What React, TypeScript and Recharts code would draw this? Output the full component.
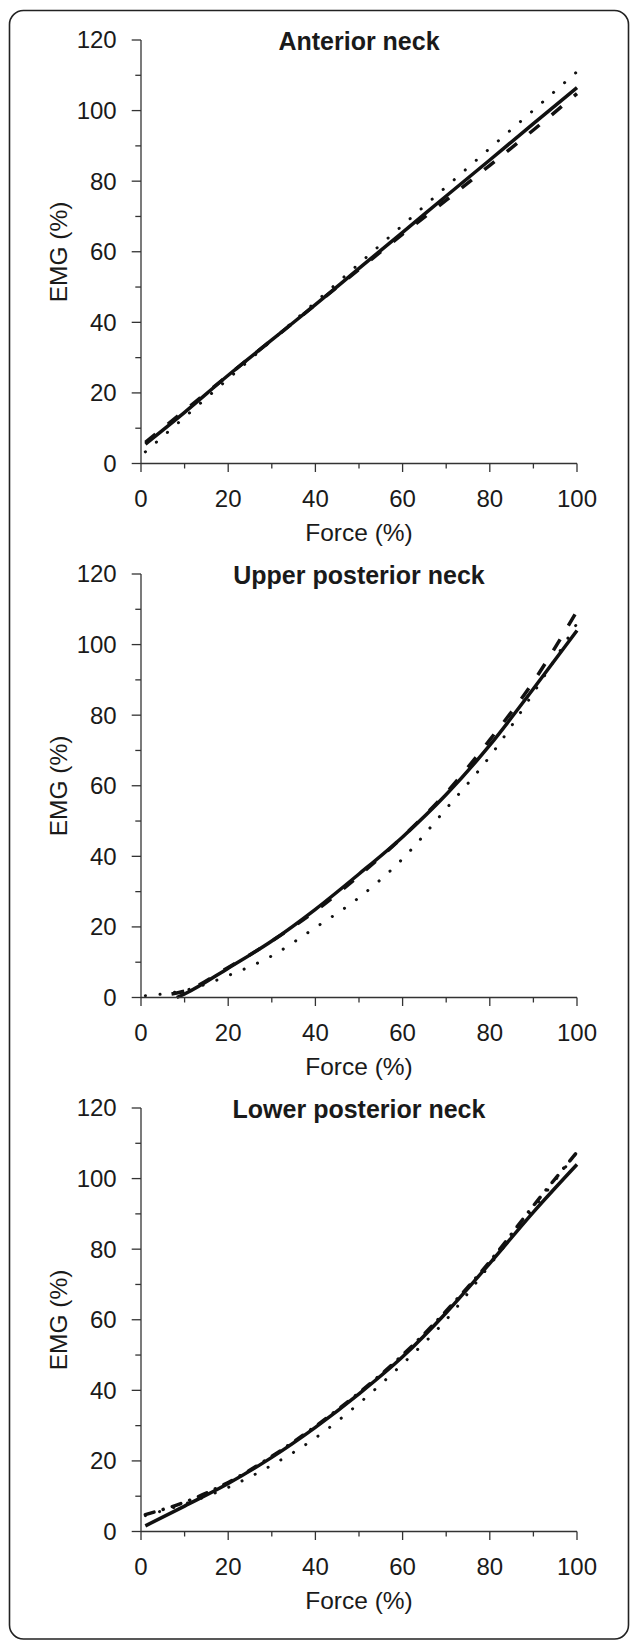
import React from "react";
import { Line, LineChart, XAxis, YAxis } from "recharts";

// force (%) sample points
const FORCE = [1, 10, 20, 30, 40, 50, 60, 70, 80, 90, 100];
const X_TICKS = [0, 10, 20, 30, 40, 50, 60, 70, 80, 90, 100];
const Y_TICKS = [0, 10, 20, 30, 40, 50, 60, 70, 80, 90, 100, 110, 120];

const TITLES = ["Anterior neck", "Upper posterior neck", "Lower posterior neck"];

// Anterior neck
const anteriorSolid = [5.5, 14.5, 25, 35, 45, 55.3, 65.5, 75.8, 86, 96.3, 106.5];
const anteriorDashed = [6, 15, 25, 35, 45, 55, 65, 74.6, 84.5, 94.5, 104.8];
const anteriorDotted = [3.3, 13.1, 24, 34.9, 45.7, 56.6, 67.5, 78.4, 89.3, 100.1, 111];

// Upper posterior neck
const upperSolidForce = [8.2, 10, 20, 30, 40, 50, 60, 70, 80, 90, 100];
const upperSolid = [0, 1, 8.3, 16, 25, 35, 45.5, 57.5, 71.5, 87.5, 104];
const upperDashedForce = [7, 10, 20, 30, 40, 50, 60, 70, 80, 90, 100];
const upperDashed = [1, 1.8, 8.5, 16, 24.5, 34.5, 45.5, 58, 73, 89.5, 109.5];
const upperDottedForce = [1, 5, 10, 20, 30, 40, 50, 60, 70, 80, 90, 100];
const upperDotted = [0.5, 1, 2, 6.2, 11.8, 19.8, 28.3, 39.3, 53.5, 68.3, 86.3, 106];

// Lower posterior neck
const lowerSolid = [1.6, 7.2, 13.6, 21, 29.5, 39, 49.5, 62, 76, 90.5, 104];
const lowerDashDot = [4.8, 8.3, 13.9, 21.3, 29.8, 39.3, 50, 62.5, 76.5, 92.3, 107.5];
const lowerDotted = [4.5, 7.8, 12.5, 18.8, 26.5, 36.3, 47.5, 60, 75.5, 91.5, 107.5];

const INK = "#1a1a1a";
const AXIS = "#333";
const LINE = "#111";
const FONT = "'Liberation Sans', Arial, Helvetica, sans-serif";

const pts = (xs: number[], ys: number[]) => xs.map((force, i) => ({ force, emg: ys[i] }));

type Series = { data: { force: number; emg: number }[]; style: "solid" | "dashed" | "dotted" | "dashdot" };

const PANELS: Series[][] = [
    [
        { data: pts(FORCE, anteriorDotted), style: "dotted" },
        { data: pts(FORCE, anteriorDashed), style: "dashed" },
        { data: pts(FORCE, anteriorSolid), style: "solid" },
    ],
    [
        { data: pts(upperDottedForce, upperDotted), style: "dotted" },
        { data: pts(upperDashedForce, upperDashed), style: "dashed" },
        { data: pts(upperSolidForce, upperSolid), style: "solid" },
    ],
    [
        { data: pts(FORCE, lowerDotted), style: "dotted" },
        { data: pts(FORCE, lowerDashDot), style: "dashdot" },
        { data: pts(FORCE, lowerSolid), style: "solid" },
    ],
];

const STYLES = {
    solid: { strokeWidth: 3.5, strokeDasharray: undefined, strokeLinecap: "butt" },
    dashed: { strokeWidth: 3.5, strokeDasharray: "13 16", strokeLinecap: "butt" },
    dotted: { strokeWidth: 3, strokeDasharray: "0.1 14.6", strokeLinecap: "round" },
    dashdot: { strokeWidth: 3.5, strokeDasharray: "9 9.5 0.1 9.5", strokeLinecap: "round" },
} as const;

const PANEL_H = 534;

const renderXTick = (props: any) => {
    const { x, y, payload } = props;
    const major = payload.value % 20 === 0;
    return (
        <g>
            <line x1={x} y1={y} x2={x} y2={y + (major ? 8.5 : 5)} stroke={AXIS} strokeWidth={1.3} />
            {major && (
                <text x={x} y={y + 43} textAnchor="middle" fontSize={24} fill={INK} fontFamily={FONT}>
                    {payload.value}
                </text>
            )}
        </g>
    );
};

const renderYTick = (props: any) => {
    const { x, y, payload } = props;
    const major = payload.value % 20 === 0;
    return (
        <g>
            <line x1={x - (major ? 9.3 : 5.7)} y1={y} x2={x} y2={y} stroke={AXIS} strokeWidth={1.3} />
            {major && (
                <text x={x - 24.3} y={y + 8.4} textAnchor="end" fontSize={24} fill={INK} fontFamily={FONT}>
                    {payload.value}
                </text>
            )}
        </g>
    );
};

function Panel({ series }: { series: Series[] }) {
    return (
        <LineChart width={630} height={PANEL_H} margin={{ top: 40, right: 53, bottom: 0, left: 0 }}>
            <XAxis
                type="number"
                dataKey="force"
                domain={[0, 100]}
                ticks={X_TICKS}
                interval={0}
                tick={renderXTick}
                tickLine={false}
                tickSize={0}
                tickMargin={0}
                height={70.5}
                axisLine={{ stroke: AXIS, strokeWidth: 1.3 }}
            />
            <YAxis
                type="number"
                domain={[0, 120]}
                ticks={Y_TICKS}
                interval={0}
                tick={renderYTick}
                tickLine={false}
                tickSize={0}
                tickMargin={0}
                width={141}
                axisLine={{ stroke: AXIS, strokeWidth: 1.3 }}
            />
            {series.map((s, i) => {
                const st = STYLES[s.style];
                return (
                    <Line
                        key={i}
                        data={s.data}
                        dataKey="emg"
                        type="monotone"
                        stroke={LINE}
                        strokeWidth={st.strokeWidth}
                        strokeDasharray={st.strokeDasharray}
                        strokeLinecap={st.strokeLinecap as any}
                        dot={false}
                        activeDot={false}
                        isAnimationActive={false}
                    />
                );
            })}
        </LineChart>
    );
}

export default function App() {
    return (
        <div style={{ position: "absolute", left: 0, top: 0, width: 630, height: 1640, background: "#fff" }}>
            {PANELS.map((series, i) => (
                <div key={i} style={{ position: "absolute", left: 0, top: i * PANEL_H }}>
                    <Panel series={series} />
                </div>
            ))}
            <svg
                width={630}
                height={1640}
                style={{ position: "absolute", left: 0, top: 0, pointerEvents: "none" }}
                fontFamily={FONT}
            >
                <rect x={9.5} y={10.5} width={619} height={1628.5} rx={14} ry={14} fill="none" stroke="#222" strokeWidth={1.6} />
                {TITLES.map((t, i) => (
                    <g key={t}>
                        <text x={359} y={49.5 + i * PANEL_H} textAnchor="middle" fontSize={25} fontWeight="bold" fill={INK}>
                            {t}
                        </text>
                        <text x={359} y={540.5 + i * PANEL_H} textAnchor="middle" fontSize={24.5} fill={INK}>
                            Force (%)
                        </text>
                        <text
                            x={66.5}
                            y={252 + i * PANEL_H}
                            textAnchor="middle"
                            fontSize={24.5}
                            fill={INK}
                            transform={`rotate(-90 66.5 ${252 + i * PANEL_H})`}
                        >
                            EMG (%)
                        </text>
                    </g>
                ))}
            </svg>
        </div>
    );
}
